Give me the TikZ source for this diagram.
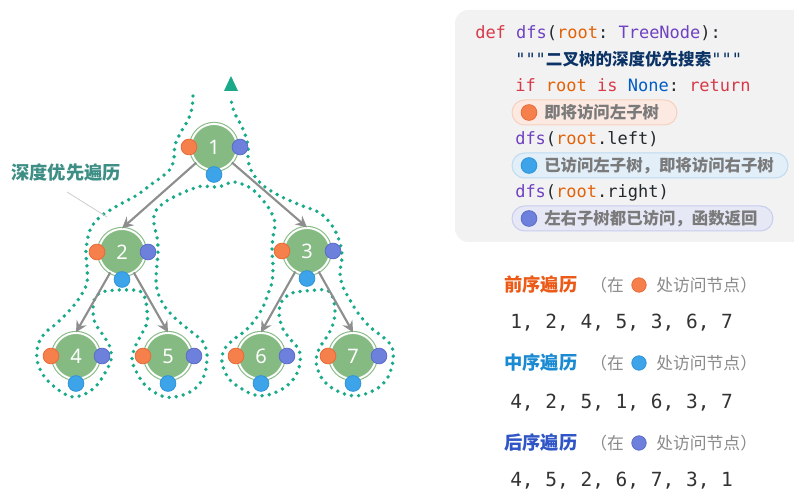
\documentclass[tikz,border=0pt]{standalone}
\usepackage{fontspec}
\setmainfont{Noto Sans}
\setmonofont{DejaVu Sans Mono}[WordSpace={1,0,0}]
\newfontfamily\cjk{Noto Sans CJK SC}
\usetikzlibrary{arrows.meta,calc}
\definecolor{ng}{HTML}{85BA82}
\definecolor{trc}{HTML}{1AAA8A}
\definecolor{labc}{HTML}{3D8E85}
\definecolor{edgec}{HTML}{8E8E8E}
\definecolor{dO}{HTML}{F6804B}\definecolor{dOb}{HTML}{E86A38}
\definecolor{dB}{HTML}{3DA4EA}\definecolor{dBb}{HTML}{2E93D8}
\definecolor{dP}{HTML}{6D80DC}\definecolor{dPb}{HTML}{5A6CC8}
\definecolor{codebg}{HTML}{F2F2F2}
\definecolor{kw}{HTML}{D73A49}
\definecolor{fn}{HTML}{6F42C1}
\definecolor{arg}{HTML}{E36209}
\definecolor{nonec}{HTML}{005CC5}
\definecolor{strc}{HTML}{0B3366}
\definecolor{plain}{HTML}{24292E}
\definecolor{pOf}{HTML}{FCEAE2}\definecolor{pOd}{HTML}{F7CFBD}
\definecolor{pBf}{HTML}{E2EEF8}\definecolor{pBd}{HTML}{BEDBF1}
\definecolor{pPf}{HTML}{E6E8F6}\definecolor{pPd}{HTML}{C8CDEE}
\definecolor{pillt}{HTML}{7A7A7A}
\definecolor{grayt}{HTML}{8A8A8A}
\definecolor{pre}{HTML}{EC5A17}
\definecolor{inc}{HTML}{1A8AD2}
\definecolor{post}{HTML}{2F55C6}
\definecolor{seqc}{HTML}{333333}
\definecolor{leadc}{HTML}{CCCCCC}
\begin{document}
\begin{tikzpicture}[x=0.75pt,y=-0.75pt,
  tnode/.style={circle, fill=ng, draw=ng, double=white, double distance=1.5pt,
    line width=0.8pt, minimum size=34.6pt, inner sep=0pt, text=white,
    font=\fontsize{15pt}{16pt}\selectfont},
  dotO/.style={circle, fill=dO, draw=dOb, line width=0.6pt, minimum size=11.8pt, inner sep=0pt},
  dotB/.style={circle, fill=dB, draw=dBb, line width=0.6pt, minimum size=11.8pt, inner sep=0pt},
  dotP/.style={circle, fill=dP, draw=dPb, line width=0.6pt, minimum size=11.8pt, inner sep=0pt},
  small/.style={minimum size=10.8pt},
  edgearrow/.style={draw=edgec, line width=1.6pt, -{Stealth[length=8.5pt,width=8.5pt,inset=3pt]}},
  trail/.style={draw=trc, line width=2.9pt, line cap=round, dash pattern=on 0pt off 5.4pt},
  code/.style={anchor=base west, inner sep=0pt, text=plain,
    font=\ttfamily\frenchspacing\fontsize{12.75pt}{15pt}\selectfont},
  pilltext/.style={anchor=west, inner sep=0pt, text=pillt,
    font=\cjk\bfseries\fontsize{12.3pt}{14pt}\selectfont},
  ttl/.style={anchor=west, inner sep=0pt, font=\cjk\bfseries\fontsize{13.7pt}{15pt}\selectfont},
  gtx/.style={anchor=west, inner sep=0pt, text=grayt, font=\cjk\fontsize{12.6pt}{14pt}\selectfont},
  seq/.style={anchor=base west, inner sep=0pt, text=seqc,
    font=\ttfamily\frenchspacing\fontsize{14.6pt}{16pt}\selectfont},
  pill/.style={line width=0.75pt, rounded corners=9.4pt}
]
\useasboundingbox (0,0) rectangle (794,491);

% ---------- code panel ----------
\fill[codebg, rounded corners=10pt] (455,10) rectangle (840,242);
\node[code] (c1) at (475,39) {\textcolor{kw}{def} \textcolor{fn}{dfs}(\textcolor{arg}{root}: \textcolor{fn}{TreeNode}):};
\node[code, text=strc] (c2) at (515,66) {"""{\cjk\bfseries\fontsize{12.4pt}{15pt}\selectfont 二叉树的深度优先搜索}"""};
\node[code] (c3) at (515,92) {\textcolor{kw}{if} \textcolor{arg}{root} \textcolor{kw}{is} \textcolor{nonec}{None}: \textcolor{kw}{return}};
\filldraw[pill, fill=pOf, draw=pOd] (512,100) rectangle (677,125);
\node[dotO] (pd1) at (529,112.5) {};
\node[pilltext] (pt1) at (544,112.5) {即将访问左子树};
\node[code] (c5) at (515,145) {\textcolor{fn}{dfs}(\textcolor{arg}{root}.left)};
\filldraw[pill, fill=pBf, draw=pBd] (512,153) rectangle (788,178);
\node[dotB] (pd2) at (529,165.5) {};
\node[pilltext] (pt2) at (544,165.5) {已访问左子树，即将访问右子树};
\node[code] (c7) at (515,198) {\textcolor{fn}{dfs}(\textcolor{arg}{root}.right)};
\filldraw[pill, fill=pPf, draw=pPd] (512,206) rectangle (773,231);
\node[dotP] (pd3) at (529,218.5) {};
\node[pilltext] (pt3) at (544,218.5) {左右子树都已访问，函数返回};

% ---------- legend ----------
\node[ttl, text=pre] (t1) at (504,285) {前序遍历};
\node[gtx] (g1) at (590,285) {（在};
\node[dotO, small] (ld1) at (639,285) {};
\node[gtx] (h1) at (656,285) {处访问节点）};
\node[seq] (s1) at (510,329) {1, 2, 4, 5, 3, 6, 7};

\node[ttl, text=inc] (t2) at (504,363) {中序遍历};
\node[gtx] (g2) at (590,363) {（在};
\node[dotB, small] (ld2) at (639,363) {};
\node[gtx] (h2) at (656,363) {处访问节点）};
\node[seq] (s2) at (510,409) {4, 2, 5, 1, 6, 3, 7};

\node[ttl, text=post] (t3) at (504,443) {后序遍历};
\node[gtx] (g3) at (590,443) {（在};
\node[dotP, small] (ld3) at (639,443) {};
\node[gtx] (h3) at (656,443) {处访问节点）};
\node[seq] (s3) at (510,487) {4, 5, 2, 6, 7, 3, 1};

% ---------- traversal trail ----------
\draw[trail] plot[smooth, tension=0.55] coordinates {
(193,96) (192,108) (188,120) (181,132) (175,145) (174,158) (171,168) (163,176) (153,183)
(137,195) (117,206) (100,217) (90,230) (86,250) (87,267) (87,283) (80,297) (70,310)
(57,323) (45,333) (38,345) (37,360) (42,373) (50,383) (63,393) (74,397) (87,393)
(97,385) (105,373) (111,360) (110,347) (103,335) (95,323) (93,310) (95,298) (102,292)
(117,290) (130,290) (140,291) (145,298) (147,310) (147,323) (140,337) (135,347)
(132,360) (137,373) (147,387) (165,397) (183,395) (197,387) (205,373) (207,355)
(203,342) (193,333) (177,320) (165,307) (158,293) (156,280) (157,265) (158,250)
(157,237) (154,224) (155,212) (165,202) (180,194) (192,189) (202,186) (212,187)
(222,186) (232,182) (242,184) (252,189) (261,198) (270,210) (275,223) (273,237)
(272,250) (273,267) (272,282) (268,294) (263,307) (255,320) (245,331) (233,340)
(224,350) (222,363) (229,379) (242,389) (255,395) (268,395) (284,388) (295,377)
(300,363) (299,350) (291,340) (283,329) (279,314) (282,301) (292,293) (305,291)
(318,290) (327,290) (333,298) (335,313) (332,327) (326,338) (319,349) (316,362)
(321,377) (332,388) (348,395) (362,395) (378,388) (388,377) (393,361) (392,347)
(383,337) (370,327) (358,313) (350,300) (343,287) (340,273) (342,257) (340,243)
(333,227) (320,213) (300,205) (280,196) (265,187) (256,178) (250,168) (248,158)
(248,146) (245,134) (240,123) (235,114) (232,105) (231,97)};
\fill[trc] (224,91) -- (231,76) -- (238,91) -- cycle;

% ---------- tree ----------
\node[tnode] (n1) at (214,147) {1};
\node[tnode] (n2) at (122,252) {2};
\node[tnode] (n3) at (307,251) {3};
\node[tnode] (n4) at (76,356) {4};
\node[tnode] (n5) at (168,356) {5};
\node[tnode] (n6) at (261,356) {6};
\node[tnode] (n7) at (353,356) {7};

\draw[edgearrow] (n1) -- (n2.north);
\draw[edgearrow] (n1) -- (n3.north);
\draw[edgearrow] (n2) -- (n4.north);
\draw[edgearrow] (n2) -- (n5.north);
\draw[edgearrow] (n3) -- (n6.north);
\draw[edgearrow] (n3) -- (n7.north);

\foreach \n in {1,...,7}{
  \node[dotO] (o\n) at ($(n\n)+(-25,0)$) {};
  \node[dotP] (p\n) at ($(n\n)+(26,0)$) {};
  \node[dotB] (b\n) at ($(n\n)+(0,27.5)$) {};
}

% ---------- label ----------
\node[ttl, text=labc] (lab) at (11,173) {深度优先遍历};
\coordinate (ls) at (67,192);
\coordinate (le) at (107,217);
\draw[leadc, line width=0.6pt] (ls) -- (le);
\end{tikzpicture}
\end{document}
